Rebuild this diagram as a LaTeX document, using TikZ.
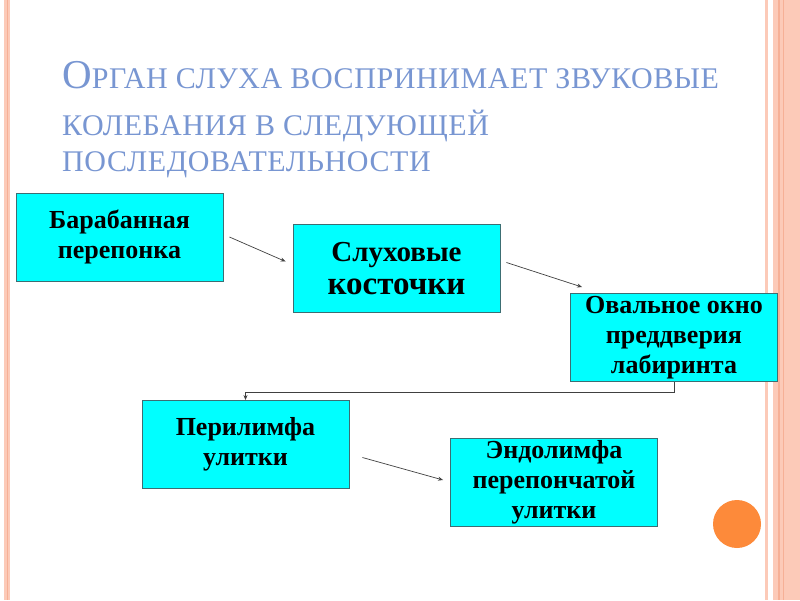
\documentclass[tikz,border=0pt]{standalone}
\usepackage{fontspec}
\setmainfont{Liberation Serif}
\usetikzlibrary{arrows.meta}
\definecolor{salmon}{RGB}{252,202,184}
\definecolor{salmondark}{RGB}{246,176,150}
\definecolor{titleblue}{RGB}{120,150,210}
\definecolor{boxcyan}{RGB}{0,255,255}
\definecolor{boxedge}{RGB}{60,110,115}
\definecolor{dotorange}{RGB}{253,138,58}
\begin{document}
\begin{tikzpicture}[x=1pt,y=-1pt,
  box/.style={draw=boxedge,line width=0.9pt,fill=boxcyan,minimum width=207pt,minimum height=88pt,
    align=center,inner sep=0pt,font=\fontsize{26}{30}\selectfont\bfseries},
  arr/.style={draw=black!75,line width=0.7pt,-{Stealth[length=5pt,width=4pt]}},
  sc/.style={font=\fontsize{30}{32}\selectfont\addfontfeature{LetterSpace=2}}]
\useasboundingbox (0,0) rectangle (800,600);
\fill[white] (0,0) rectangle (800,600);

% page frame
\fill[salmon] (4,0) rectangle (10,600);
\fill[salmondark] (6.5,0) rectangle (7.5,600);
\fill[salmon] (765,0) rectangle (768,600);
\fill[salmon] (773,0) rectangle (800,600);
\fill[salmondark] (778,0) rectangle (779.5,600);
\fill[salmondark] (783,0) rectangle (784,600);
\fill[dotorange] (737,524) circle (24);

% title
\node[anchor=base west,inner sep=0pt,text=titleblue] (t1) at (62,88)
  {{\fontsize{41}{42}\selectfont О}{\fontsize{30}{32}\selectfont\addfontfeature{LetterSpace=2}РГАН СЛУХА ВОСПРИНИМАЕТ ЗВУКОВЫЕ}};
\node[anchor=base west,inner sep=0pt,text=titleblue,sc] (t2) at (62,135) {КОЛЕБАНИЯ В СЛЕДУЮЩЕЙ};
\node[anchor=base west,inner sep=0pt,text=titleblue,sc] (t3) at (62,171) {ПОСЛЕДОВАТЕЛЬНОСТИ};

% boxes
\node[box] (drum) at (119.5,237) {Барабанная\\перепонка};
\node[box,font=\fontsize{29}{33}\selectfont\bfseries] (oss) at (396.5,268.5)
  {Слуховые\\{\fontsize{33}{33}\selectfont косточки}};
\node[box] (oval) at (674,337.5) {Овальное окно\\преддверия\\лабиринта};
\node[box] (peri) at (245.5,444.5) {Перилимфа\\улитки};
\node[box] (endo) at (554,482) {Эндолимфа\\перепончатой\\улитки};

% arrows
\draw[arr] ([xshift=6pt]drum.east) -- ([xshift=-7pt,yshift=7pt]oss.west);
\draw[arr] ([xshift=6pt,yshift=6pt]oss.east) -- ([xshift=12pt,yshift=6pt]oval.north west);
\draw[arr] (oval.south) -- ++(0,10) -| (peri.north);
\draw[arr] ([xshift=13pt,yshift=-13pt]peri.east) -- ([xshift=-7pt,yshift=2pt]endo.west);

\end{tikzpicture}
\end{document}
